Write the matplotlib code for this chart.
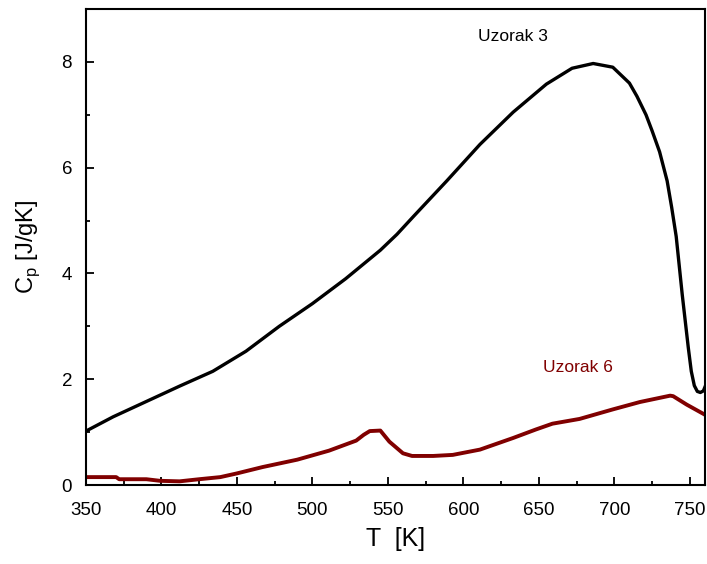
import matplotlib
matplotlib.use('agg')
import matplotlib.pyplot as plt
from matplotlib.ticker import MultipleLocator

plt.rcParams['font.family'] = ['Liberation Sans', 'DejaVu Sans']

# Uzorak 3 (black)
t3 = [350, 368, 390, 412, 434, 456, 478, 500, 522, 545, 556, 567, 589, 611, 633,
      655, 672, 686, 699, 710, 715, 721, 725, 730, 735, 738, 741, 743, 745, 747,
      749, 751, 753, 755, 757, 759, 760]
cp3 = [1.02, 1.29, 1.58, 1.87, 2.15, 2.53, 3.0, 3.43, 3.9, 4.44, 4.74, 5.08, 5.75, 6.44, 7.05,
       7.58, 7.88, 7.97, 7.9, 7.6, 7.35, 7.0, 6.7, 6.3, 5.75, 5.25, 4.7, 4.15, 3.6, 3.1,
       2.6, 2.15, 1.88, 1.77, 1.75, 1.78, 1.85]

# Uzorak 6 (dark red)
t6 = [350, 370, 372, 390, 399, 412, 425, 439, 450, 467, 490, 511, 529, 534, 538, 545,
      551, 560, 566, 580, 593, 611, 633, 648, 659, 677, 699, 717, 737, 739, 748, 760]
cp6 = [0.15, 0.15, 0.11, 0.11, 0.08, 0.07, 0.11, 0.15, 0.22, 0.34, 0.48, 0.65, 0.84, 0.95, 1.02, 1.03,
       0.82, 0.6, 0.55, 0.55, 0.57, 0.67, 0.89, 1.05, 1.16, 1.25, 1.43, 1.57, 1.69, 1.68, 1.52, 1.33]

fig = plt.figure(figsize=(7.07, 5.64), dpi=100)
ax = fig.add_axes([0.1216, 0.140, 0.8754, 0.844])

ax.plot(t3, cp3, color='black', lw=2.4)
ax.plot(t6, cp6, color='#800000', lw=2.8)

ax.text(633, 8.48, 'Uzorak 3', color='black', fontsize=12.5, ha='center', va='center')
ax.text(676, 2.23, 'Uzorak 6', color='#800000', fontsize=12.5, ha='center', va='center')

ax.set_xlim(350, 760)
ax.set_ylim(0, 9)
ax.xaxis.set_major_locator(MultipleLocator(50))
ax.xaxis.set_minor_locator(MultipleLocator(25))
ax.yaxis.set_major_locator(MultipleLocator(2))
ax.yaxis.set_minor_locator(MultipleLocator(1))
ax.tick_params(which='both', direction='in', top=False, right=False, width=1.3)
ax.tick_params(which='major', length=6)
ax.tick_params(which='minor', length=3)
ax.tick_params(axis='x', labelsize=13.5, pad=12)
ax.tick_params(axis='y', labelsize=13.5, pad=10)
for s in ax.spines.values():
    s.set_linewidth(1.5)

ax.set_xlabel('T  [K]', fontsize=18, labelpad=6)
ax.set_ylabel('C$_\\mathregular{p}$ [J/gK]', fontsize=17, labelpad=14)

fig.savefig('out.png', dpi=100)
